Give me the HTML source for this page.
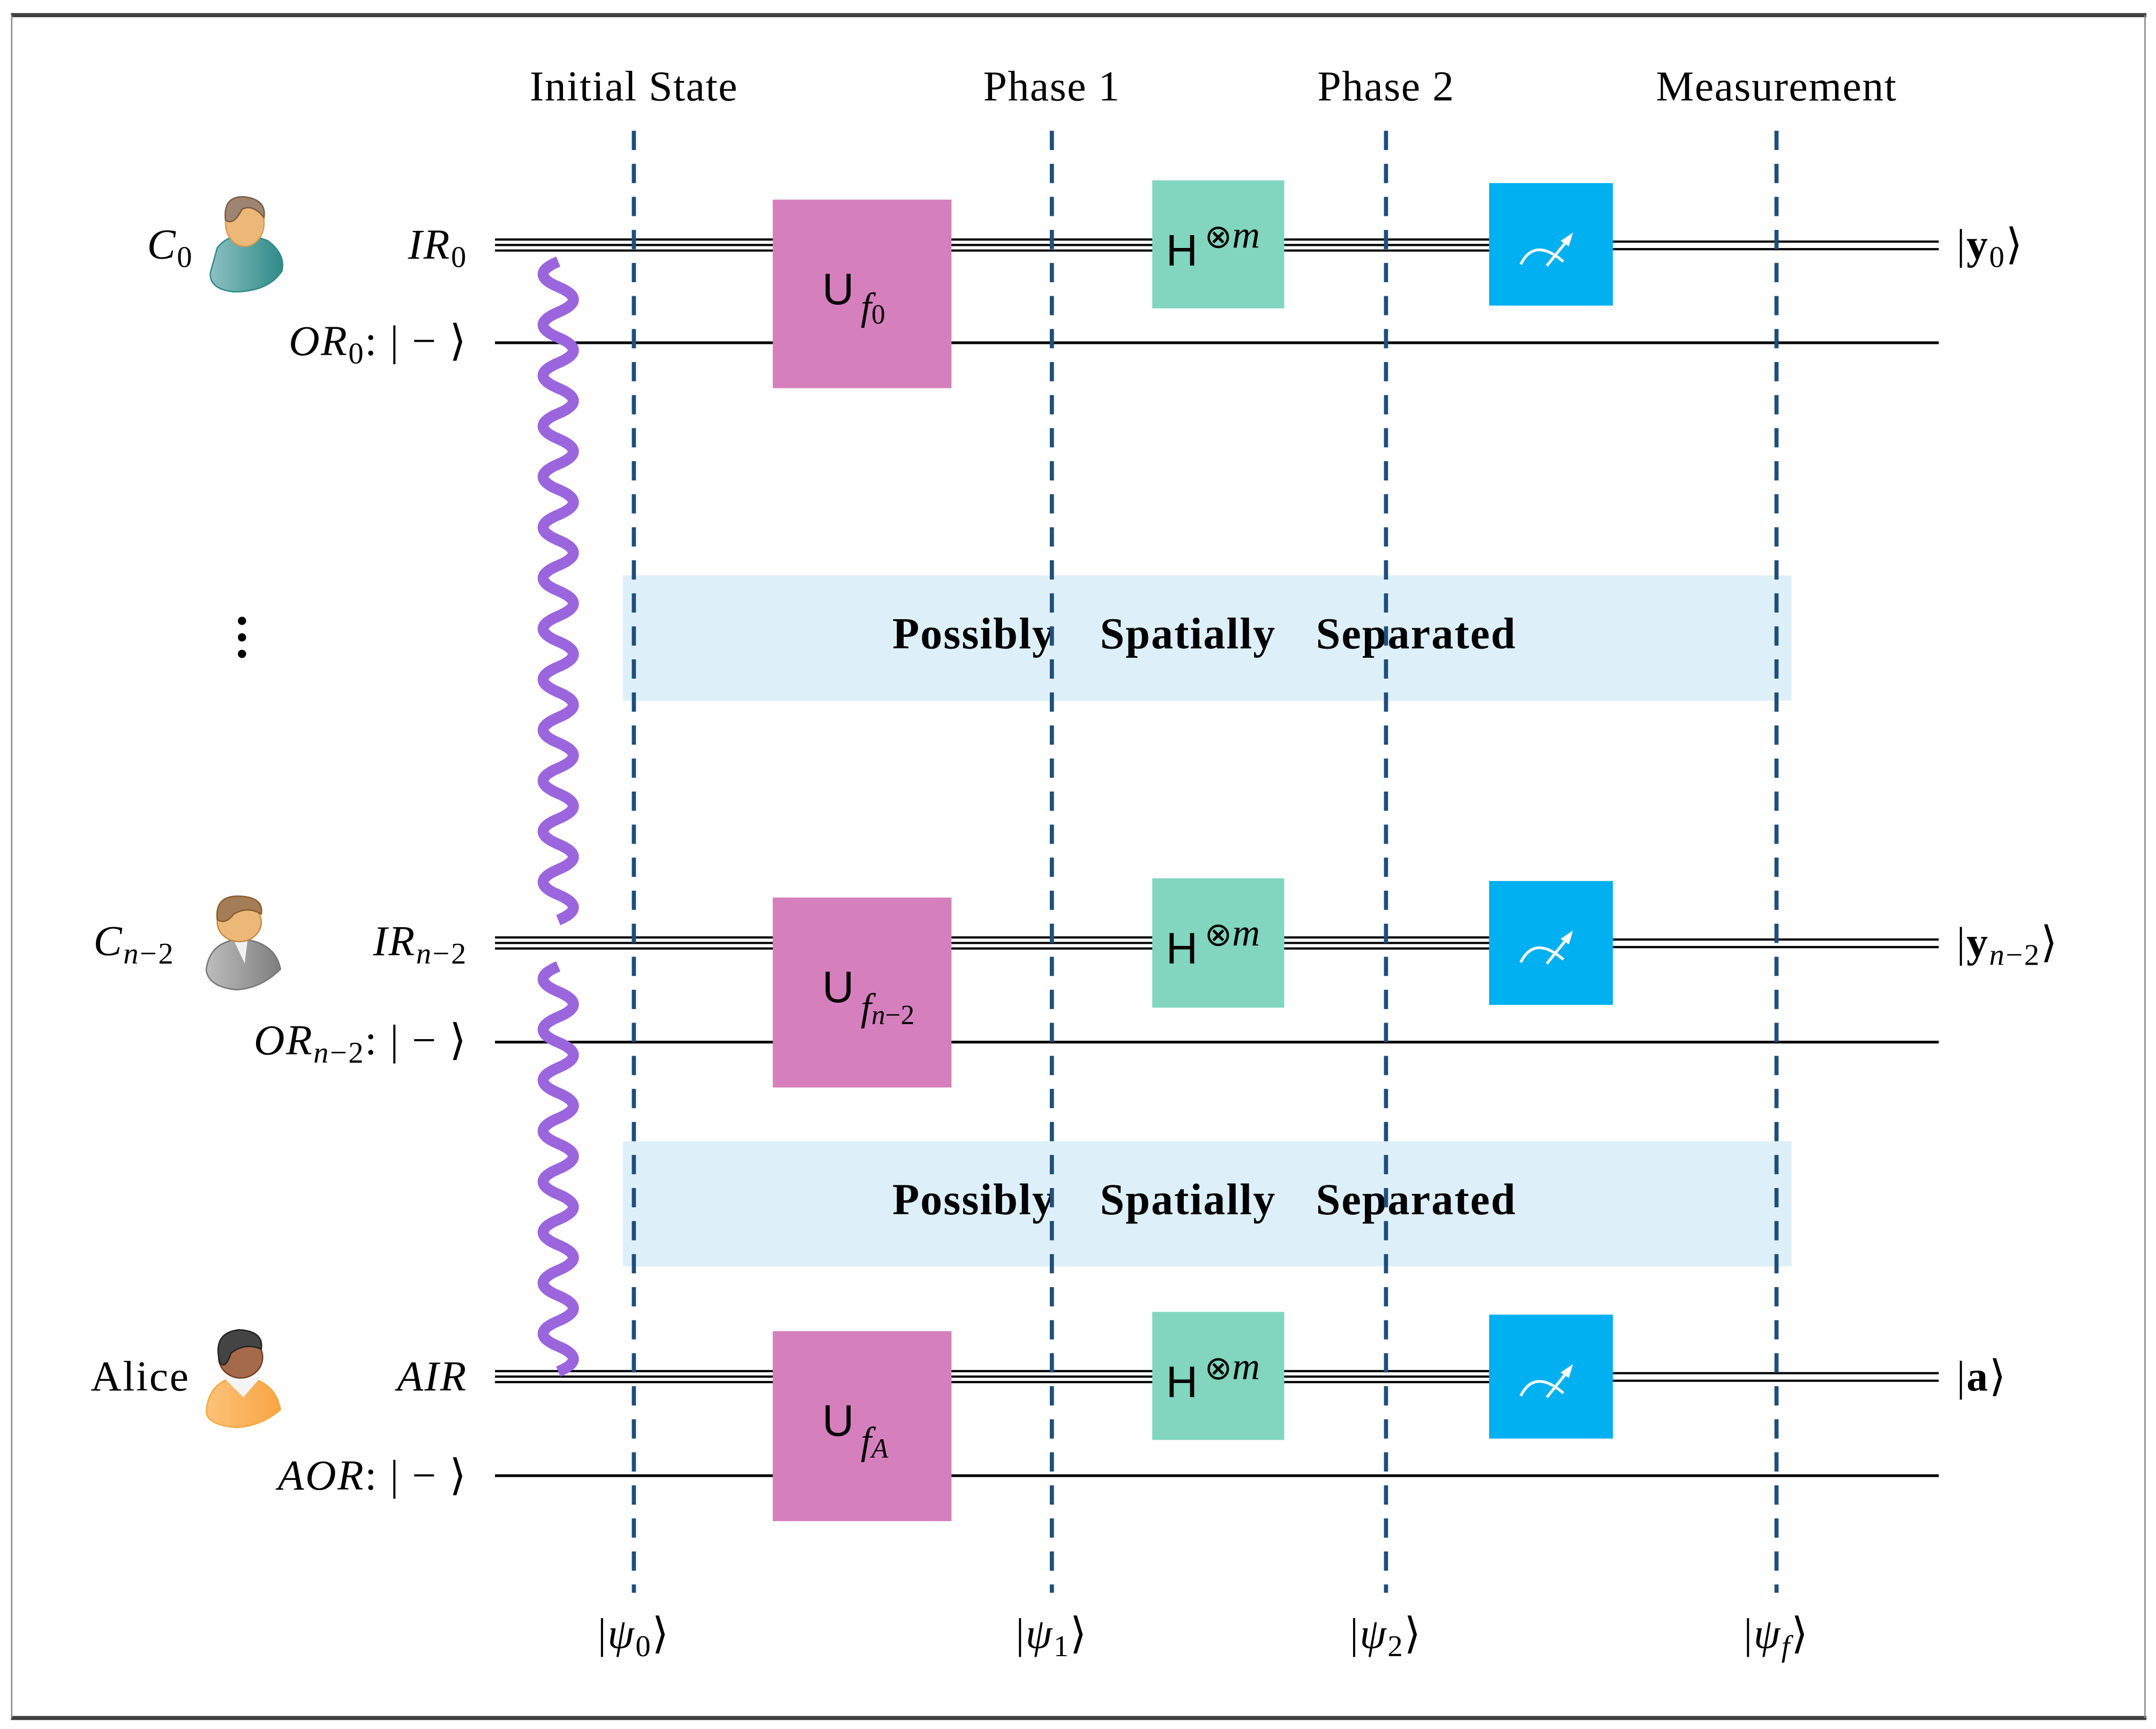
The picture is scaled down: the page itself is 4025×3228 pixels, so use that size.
<!DOCTYPE html>
<html><head><meta charset="utf-8"><style>
html,body{margin:0;padding:0;background:#fff}
svg{display:block}
text{font-family:"Liberation Serif",serif;fill:#000}
.s{font-family:"Liberation Sans",sans-serif}
</style></head><body>
<svg width="4025" height="3228" viewBox="0 0 1568 1256" preserveAspectRatio="none" xmlns="http://www.w3.org/2000/svg">
<rect x="0" y="0" width="1568" height="1256" fill="#fff"/>
<line x1="8" y1="11" x2="1561" y2="11" stroke="#404040" stroke-width="3"/>
<line x1="8" y1="1248" x2="1561" y2="1248" stroke="#404040" stroke-width="3"/>
<line x1="8.5" y1="11" x2="8.5" y2="1248" stroke="#888" stroke-width="1"/>
<line x1="1560" y1="11" x2="1560" y2="1248" stroke="#888" stroke-width="1"/>

<rect x="453" y="418" width="850" height="91" fill="#ddf0f9"/>
<rect x="453" y="829" width="850" height="91" fill="#ddf0f9"/>

<g font-size="31" text-anchor="middle" letter-spacing="0.6">
<text x="461" y="73">Initial State</text>
<text x="765" y="73">Phase 1</text>
<text x="1008" y="73">Phase 2</text>
<text x="1292" y="73">Measurement</text>
</g>

<g stroke="#000">
<g stroke-width="1.6">
<line x1="360" y1="174" x2="1083" y2="174"/><line x1="360" y1="178" x2="1083" y2="178"/><line x1="360" y1="182" x2="1083" y2="182"/>
<line x1="1173" y1="175.5" x2="1410" y2="175.5"/><line x1="1173" y1="181" x2="1410" y2="181"/>
<line x1="360" y1="681" x2="1083" y2="681"/><line x1="360" y1="685" x2="1083" y2="685"/><line x1="360" y1="689" x2="1083" y2="689"/>
<line x1="1173" y1="682.5" x2="1410" y2="682.5"/><line x1="1173" y1="688" x2="1410" y2="688"/>
<line x1="360" y1="996" x2="1083" y2="996"/><line x1="360" y1="1000" x2="1083" y2="1000"/><line x1="360" y1="1004" x2="1083" y2="1004"/>
<line x1="1173" y1="997.5" x2="1410" y2="997.5"/><line x1="1173" y1="1003" x2="1410" y2="1003"/>
</g>
<g stroke-width="2">
<line x1="360" y1="249" x2="1410" y2="249"/>
<line x1="360" y1="757" x2="1410" y2="757"/>
<line x1="360" y1="1072" x2="1410" y2="1072"/>
</g>
</g>

<g font-size="32" font-weight="bold" letter-spacing="0.8">
<text x="649" y="471">Possibly</text><text x="800" y="471">Spatially</text><text x="957" y="471">Separated</text>
<text x="649" y="882">Possibly</text><text x="800" y="882">Spatially</text><text x="957" y="882">Separated</text>
</g>

<g fill="#d580bd">
<rect x="562" y="145" width="130" height="137"/>
<rect x="562" y="652" width="130" height="138"/>
<rect x="562" y="967" width="130" height="138"/>
</g>
<g fill="#82d5be">
<rect x="838" y="131" width="96" height="93"/>
<rect x="838" y="638" width="96" height="94"/>
<rect x="838" y="953" width="96" height="93"/>
</g>
<g fill="#00b0f0">
<rect x="1083" y="133" width="90" height="89"/>
<rect x="1083" y="640" width="90" height="90"/>
<rect x="1083" y="955" width="90" height="90"/>
</g>
<g fill="none" stroke="#fff" stroke-width="2">
<path d="M1106,192 Q1116,172 1137,190"/><line x1="1125" y1="193" x2="1142" y2="172"/>
<path d="M1106,699 Q1116,679 1137,697"/><line x1="1125" y1="700" x2="1142" y2="679"/>
<path d="M1106,1014 Q1116,994 1137,1012"/><line x1="1125" y1="1015" x2="1142" y2="994"/>
</g>
<g fill="#fff">
<polygon points="1144,169 1135,175 1141,179"/>
<polygon points="1144,676 1135,682 1141,686"/>
<polygon points="1144,991 1135,997 1141,1001"/>
</g>

<g class="s" font-size="32">
<text x="598" y="221" class="s">U</text>
<text x="598" y="728" class="s">U</text>
<text x="598" y="1043" class="s">U</text>
<text x="848" y="193" class="s">H</text>
<text x="848" y="700" class="s">H</text>
<text x="848" y="1015" class="s">H</text>
</g>
<g font-style="italic" font-size="28">
<text x="626" y="232">f<tspan font-style="normal" font-size="20" dy="3">0</tspan></text>
<text x="626" y="741">f<tspan font-size="20" dy="3">n</tspan><tspan font-style="normal" font-size="20">−2</tspan></text>
<text x="626" y="1056">f<tspan font-size="20" dy="3">A</tspan></text>
<text x="876" y="180"><tspan font-style="normal" font-size="24">⊗</tspan>m</text>
<text x="876" y="687"><tspan font-style="normal" font-size="24">⊗</tspan>m</text>
<text x="876" y="1002"><tspan font-style="normal" font-size="24">⊗</tspan>m</text>
</g>

<g stroke="#1f4e79" stroke-width="3" stroke-dasharray="14,10">
<line x1="461" y1="95" x2="461" y2="1157"/>
<line x1="765" y1="95" x2="765" y2="1157"/>
<line x1="1008" y1="95" x2="1008" y2="1157"/>
<line x1="1292" y1="95" x2="1292" y2="1157"/>
</g>

<g fill="none" stroke="#9b66dd" stroke-width="8">
<path d="M406,190 q-22,9.2 0,18.4 t0,18.4 t0,18.4 t0,18.4 t0,18.4 t0,18.4 t0,18.4 t0,18.4 t0,18.4 t0,18.4 t0,18.4 t0,18.4 t0,18.4 t0,18.4 t0,18.4 t0,18.4 t0,18.4 t0,18.4 t0,18.4 t0,18.4 t0,18.4 t0,18.4 t0,18.4 t0,18.4 t0,18.4 t0,18.4"/>
<path d="M406,702 q-22,9.2 0,18.4 t0,18.4 t0,18.4 t0,18.4 t0,18.4 t0,18.4 t0,18.4 t0,18.4 t0,18.4 t0,18.4 t0,18.4 t0,18.4 t0,18.4 t0,18.4 t0,18.4 t0,18.4"/>
</g>

<g font-size="31" letter-spacing="1">
<text x="107" y="188" font-style="italic">C<tspan font-style="normal" font-size="22" dy="6">0</tspan></text>
<text x="340" y="188" text-anchor="end" font-style="italic">IR<tspan font-style="normal" font-size="22" dy="6">0</tspan></text>
<text x="340" y="258" text-anchor="end"><tspan font-style="italic">OR</tspan><tspan font-size="22" dy="6">0</tspan><tspan dy="-6">:  | − ⟩</tspan></text>
<text x="68" y="694" font-style="italic">C<tspan font-size="22" dy="6">n</tspan><tspan font-style="normal" font-size="22">−2</tspan></text>
<text x="340" y="694" text-anchor="end" font-style="italic">IR<tspan font-size="22" dy="6">n</tspan><tspan font-style="normal" font-size="22">−2</tspan></text>
<text x="340" y="766" text-anchor="end"><tspan font-style="italic">OR</tspan><tspan font-style="italic" font-size="22" dy="6">n</tspan><tspan font-size="22">−2</tspan><tspan dy="-6">:  | − ⟩</tspan></text>
<text x="66" y="1010">Alice</text>
<text x="340" y="1010" text-anchor="end" font-style="italic">AIR</text>
<text x="340" y="1082" text-anchor="end"><tspan font-style="italic">AOR</tspan>:  | − ⟩</text>
<text x="1423" y="188">|<tspan font-weight="bold">y</tspan><tspan font-size="22" dy="6">0</tspan><tspan dy="-6">⟩</tspan></text>
<text x="1423" y="695">|<tspan font-weight="bold">y</tspan><tspan font-size="22" dy="6" font-style="italic">n</tspan><tspan font-size="22">−2</tspan><tspan dy="-6">⟩</tspan></text>
<text x="1423" y="1010">|<tspan font-weight="bold">a</tspan>⟩</text>
<g text-anchor="middle">
<text x="461" y="1197">|<tspan font-style="italic">ψ</tspan><tspan font-size="22" dy="6">0</tspan><tspan dy="-6">⟩</tspan></text>
<text x="765" y="1197">|<tspan font-style="italic">ψ</tspan><tspan font-size="22" dy="6">1</tspan><tspan dy="-6">⟩</tspan></text>
<text x="1008" y="1197">|<tspan font-style="italic">ψ</tspan><tspan font-size="22" dy="6">2</tspan><tspan dy="-6">⟩</tspan></text>
<text x="1292" y="1197">|<tspan font-style="italic">ψ</tspan><tspan font-size="22" dy="6" font-style="italic">f</tspan><tspan dy="-6">⟩</tspan></text>
</g>
</g>

<g fill="#000"><circle cx="176" cy="451" r="3"/><circle cx="176" cy="463" r="3"/><circle cx="176" cy="475" r="3"/></g>

<defs>
<linearGradient id="teal" x1="0" x2="1"><stop offset="0" stop-color="#8cc0c2"/><stop offset="1" stop-color="#2f8a88"/></linearGradient>
<linearGradient id="gray" x1="0" x2="1"><stop offset="0" stop-color="#bdbdbd"/><stop offset="1" stop-color="#7e7e7e"/></linearGradient>
<linearGradient id="orng" x1="0" x2="1"><stop offset="0" stop-color="#fdc27a"/><stop offset="1" stop-color="#f9a542"/></linearGradient>
</defs>
<path d="M158,180 Q170,165 195,175 Q208,185 205,197 Q195,212 170,212 Q152,210 153,198 Z" fill="url(#teal)" stroke="#2f8a88" stroke-width="1"/>
<ellipse cx="178" cy="162" rx="14" ry="17" fill="#ecb877" stroke="#d99a54"/>
<path d="M164,160 Q162,142 178,143 Q194,145 192,158 Q184,148 176,152 Q170,164 164,160Z" fill="#9e8571" stroke="#7a5a44"/>
<path d="M150,705 Q152,684 175,682 Q200,684 204,704 Q190,718 172,719 Q152,717 150,705Z" fill="url(#gray)" stroke="#777"/>
<path d="M170,683 L178,700 L180,683Z" fill="#f2f2f2"/>
<ellipse cx="174" cy="670" rx="16" ry="14" fill="#ecb877" stroke="#c58a45"/>
<path d="M158,668 Q156,650 175,651 Q192,652 190,664 Q180,658 170,664 Q164,672 158,668Z" fill="#a47c55" stroke="#8a5c2c"/>
<path d="M150,1025 Q152,1002 175,1000 Q200,1002 204,1024 Q190,1036 172,1037 Q150,1035 150,1025Z" fill="url(#orng)" stroke="#f5a740"/>
<path d="M162,1000 L177,1015 L190,1000Z" fill="#f4f4f4"/>
<ellipse cx="175" cy="986" rx="16" ry="15" fill="#a56a4a" stroke="#6f3e26"/>
<path d="M160,990 Q154,968 174,966 Q192,967 190,980 Q178,975 168,983 Q164,995 160,990Z" fill="#444" stroke="#222"/>
</svg>
</body></html>
